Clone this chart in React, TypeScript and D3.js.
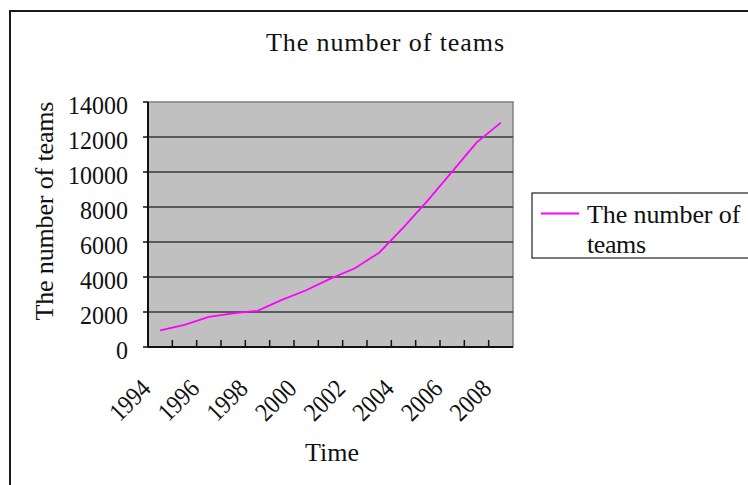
import { useEffect, useRef } from "react";
import * as d3 from "d3";

const years = [
  "1994", "1995", "1996", "1997", "1998", "1999", "2000", "2001",
  "2002", "2003", "2004", "2005", "2006", "2007", "2008",
];
const teams = [
  950, 1270, 1720, 1920, 2070, 2690, 3240, 3910, 4500, 5390, 6830, 8380, 10020, 11680, 12820,
];
const yTicks = [0, 2000, 4000, 6000, 8000, 10000, 12000, 14000];
const labelYears = ["1994", "1996", "1998", "2000", "2002", "2004", "2006", "2008"];

const title = "The number of teams";
const yTitle = "The number of teams";
const xTitle = "Time";
const legendLines = ["The number of", "teams"];

export default function App() {
  const svgRef = useRef<SVGSVGElement | null>(null);

  useEffect(() => {
    const width = 748;
    const height = 485;
    const plot = { left: 148, right: 513, top: 102, bottom: 347 };
    // SimSun-like look: serif glyphs spread to a fixed pitch
    const label = "'Liberation Serif', 'Times New Roman', serif";
    const serif = "'Liberation Serif', 'Times New Roman', serif";

    const svg = d3.select(svgRef.current);
    svg.attr("viewBox", `0 0 ${width} ${height}`);
    svg.selectAll("*").remove();

    svg.append("rect").attr("width", width).attr("height", height).attr("fill", "#fff");

    // outer chart frame (runs off the right and bottom edges)
    svg
      .append("rect")
      .attr("x", 10)
      .attr("y", 11)
      .attr("width", 760)
      .attr("height", 500)
      .attr("fill", "none")
      .attr("stroke", "#1a1a1a")
      .attr("stroke-width", 2);

    const x = d3.scaleBand<string>().domain(years).range([plot.left, plot.right]).padding(0);
    const y = d3.scaleLinear().domain([0, 14000]).range([plot.bottom, plot.top]);

    svg
      .append("rect")
      .attr("x", plot.left)
      .attr("y", plot.top)
      .attr("width", plot.right - plot.left)
      .attr("height", plot.bottom - plot.top)
      .attr("fill", "#c0c0c0")
      .attr("stroke", "#808080")
      .attr("stroke-width", 1.5);

    // gridlines
    svg
      .append("g")
      .selectAll("line")
      .data(yTicks.filter((t) => t > 0 && t < 14000))
      .join("line")
      .attr("x1", plot.left)
      .attr("x2", plot.right)
      .attr("y1", (d) => y(d))
      .attr("y2", (d) => y(d))
      .attr("stroke", "#3a3a3a")
      .attr("stroke-width", 1.5);

    // y axis
    svg
      .append("line")
      .attr("x1", plot.left)
      .attr("x2", plot.left)
      .attr("y1", plot.top)
      .attr("y2", plot.bottom)
      .attr("stroke", "#111")
      .attr("stroke-width", 2);
    svg
      .append("g")
      .selectAll("line")
      .data(yTicks)
      .join("line")
      .attr("x1", plot.left - 5)
      .attr("x2", plot.left)
      .attr("y1", (d) => y(d))
      .attr("y2", (d) => y(d))
      .attr("stroke", "#111")
      .attr("stroke-width", 1.5);
    svg
      .append("g")
      .selectAll("text")
      .data(yTicks)
      .join("text")
      .attr("x", 128)
      .attr("y", (d) => y(d) + 2.5)
      .attr("dy", "0.35em")
      .attr("text-anchor", "end")
      .attr("font-family", serif)
      .attr("font-size", 26)
      .attr("textLength", (d) => String(d).length * 12)
      .attr("lengthAdjust", "spacingAndGlyphs")
      .attr("fill", "#111")
      .text((d) => String(d));

    // x axis
    svg
      .append("line")
      .attr("x1", plot.left)
      .attr("x2", plot.right)
      .attr("y1", plot.bottom)
      .attr("y2", plot.bottom)
      .attr("stroke", "#111")
      .attr("stroke-width", 2);
    svg
      .append("g")
      .selectAll("line")
      .data(years.slice(1))
      .join("line")
      .attr("x1", (d) => x(d) as number)
      .attr("x2", (d) => x(d) as number)
      .attr("y1", plot.bottom - 7)
      .attr("y2", plot.bottom)
      .attr("stroke", "#111")
      .attr("stroke-width", 1.5);
    svg
      .append("g")
      .selectAll("text")
      .data(labelYears)
      .join("text")
      .attr("transform", (d) => {
        const cx = (x(d) as number) + x.bandwidth() / 2 - 8;
        return `translate(${cx},390) rotate(-45)`;
      })
      .attr("text-anchor", "end")
      .attr("font-family", serif)
      .attr("font-size", 26)
      .attr("textLength", 46)
      .attr("lengthAdjust", "spacingAndGlyphs")
      .attr("fill", "#111")
      .text((d) => d);

    // series
    const line = d3
      .line<number>()
      .x((_, i) => (x(years[i]) as number) + x.bandwidth() / 2)
      .y((d) => y(d));
    svg
      .append("path")
      .datum(teams)
      .attr("d", line)
      .attr("fill", "none")
      .attr("stroke", "#ff00ff")
      .attr("stroke-width", 1.8);

    // titles
    svg
      .append("text")
      .attr("x", 385)
      .attr("y", 51)
      .attr("text-anchor", "middle")
      .attr("font-family", label)
      .attr("font-size", 26)
      .attr("textLength", 238)
      .attr("lengthAdjust", "spacing")
      .attr("fill", "#111")
      .text(title);
    svg
      .append("text")
      .attr("transform", "translate(53,211) rotate(-90)")
      .attr("text-anchor", "middle")
      .attr("font-family", label)
      .attr("font-size", 26)
      .attr("textLength", 219)
      .attr("lengthAdjust", "spacing")
      .attr("fill", "#111")
      .text(yTitle);
    svg
      .append("text")
      .attr("x", 332)
      .attr("y", 461)
      .attr("text-anchor", "middle")
      .attr("font-family", label)
      .attr("font-size", 26)
      .attr("fill", "#111")
      .text(xTitle);

    // legend
    const legend = svg.append("g");
    legend
      .append("rect")
      .attr("x", 532)
      .attr("y", 193)
      .attr("width", 240)
      .attr("height", 65)
      .attr("fill", "#fff")
      .attr("stroke", "#222")
      .attr("stroke-width", 1.2);
    legend
      .append("line")
      .attr("x1", 541)
      .attr("x2", 579)
      .attr("y1", 213.5)
      .attr("y2", 213.5)
      .attr("stroke", "#ff00ff")
      .attr("stroke-width", 1.8);
    legend
      .selectAll("text")
      .data(legendLines)
      .join("text")
      .attr("x", 587)
      .attr("y", (_, i) => 223 + i * 29.5)
      .attr("font-family", label)
      .attr("font-size", 26)
      .attr("textLength", (d) => d.length * 11.8)
      .attr("lengthAdjust", "spacing")
      .attr("fill", "#111")
      .text((d) => d);
  }, []);

  return (
    <svg
      ref={svgRef}
      width={748}
      height={485}
      style={{ position: "fixed", left: 0, top: 0, display: "block" }}
    />
  );
}
